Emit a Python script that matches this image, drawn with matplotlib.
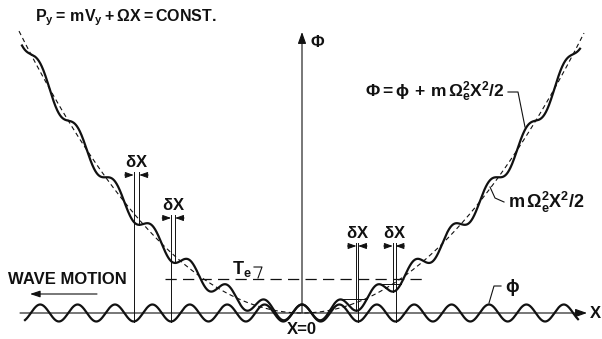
import numpy as np
import matplotlib.pyplot as plt

face = 'Liberation Sans'
plt.rcParams['font.family'] = [face, 'DejaVu Sans']
plt.rcParams['font.weight'] = 'bold'
plt.rcParams['mathtext.fontset'] = 'custom'
plt.rcParams['mathtext.rm'] = face + ':bold'
plt.rcParams['mathtext.it'] = face + ':bold'
plt.rcParams['mathtext.bf'] = face + ':bold'

# potential of the wave: phi = A cos(kX); well: m Omega_e^2 X^2 / 2 = C X^2
PHI_AMP = 8.5
WAVELENGTH = 37.4
WELL_C = 0.00352
X_PHI = (-277, 276)
X_TOTAL = (-280, 278)
X_WELL = (-283, 282)

TE_LEVEL = 34
TE_SPAN = (-137, 123)

# delta-X markers: trough index (in wavelengths) and height of the arrows
DX_TROUGHS = [-4.5, -3.5, 1.5, 2.5]
DX_HEIGHTS = [138, 95, 67, 67]
# trapping levels drawn from these local maxima of Phi (in wavelengths)
TRAP_PEAKS = [1, 2]

k = 2 * np.pi / WAVELENGTH


def phi(x):
    return PHI_AMP * np.cos(k * x)


def well(x):
    return WELL_C * x ** 2


def total(x):
    return phi(x) + well(x)


fig = plt.figure(figsize=(6.02, 3.39), dpi=100)
ax = fig.add_axes([0, 0, 1, 1])
ax.set_xlim(-302, 300)
ax.set_ylim(-26, 313)
ax.axis('off')

ink = '#111111'

# axes
ax.annotate('', xy=(285, 0), xytext=(-282, 0),
            arrowprops=dict(arrowstyle='-|>,head_length=0.7,head_width=0.25', lw=0.8, color=ink, shrinkA=0, shrinkB=0))
ax.annotate('', xy=(0, 281), xytext=(0, 0),
            arrowprops=dict(arrowstyle='-|>,head_length=0.7,head_width=0.25', lw=0.8, color=ink, shrinkA=0, shrinkB=0))
ax.text(288, 0, 'X', fontsize=12, va='center', ha='left', color=ink)
ax.text(8, 271, r'$\mathbf{\Phi}$', fontsize=12, va='center', ha='left', color=ink)
ax.text(0, -17, 'X=0', fontsize=12, va='center', ha='center', color=ink)

xs = np.linspace(*X_PHI, 2000)
ax.plot(xs, phi(xs), color=ink, lw=1.6)
xs = np.linspace(*X_TOTAL, 2000)
ax.plot(xs, total(xs), color=ink, lw=1.6)
xs = np.linspace(*X_WELL, 400)
ax.plot(xs, well(xs), color=ink, lw=0.8, ls=(0, (4, 3)))

# Te level
ax.plot(TE_SPAN, [TE_LEVEL, TE_LEVEL], color=ink, lw=0.9, ls=(0, (9, 5)))
ax.text(-70, TE_LEVEL + 10, r'$\mathrm{T_e}$', fontsize=13, ha='left', va='center', color=ink)
ax.plot([-48, -40, -44], [TE_LEVEL + 12, TE_LEVEL + 12, TE_LEVEL + 1], color=ink, lw=0.8)

# delta X markers
for n, h in zip(DX_TROUGHS, DX_HEIGHTS):
    xt = n * WAVELENGTH
    win = np.linspace(xt - WAVELENGTH / 4, xt + WAVELENGTH / 4, 2001)
    slope = np.gradient(total(win), win)
    xm = win[np.argmin(np.abs(slope))]
    ax.plot([xt, xt], [h + 3, phi(xt)], color=ink, lw=0.7)
    ax.plot([xm, xm], [h + 3, total(xm)], color=ink, lw=0.7)
    lo, hi = min(xt, xm), max(xt, xm)
    ap = dict(arrowstyle='-|>,head_length=0.5,head_width=0.18', lw=0.7, color=ink, shrinkA=0, shrinkB=0)
    ax.annotate('', xy=(lo, h), xytext=(lo - 9, h), arrowprops=ap)
    ax.annotate('', xy=(hi, h), xytext=(hi + 9, h), arrowprops=ap)
    ax.text((lo + hi) / 2, h + 13, r'$\mathrm{\delta X}$', fontsize=12, ha='center', va='center', color=ink)

# trapping levels
for n in TRAP_PEAKS:
    xp = n * WAVELENGTH
    win = np.linspace(xp - WAVELENGTH / 4, xp + WAVELENGTH / 4, 2001)
    i = np.argmax(total(win))
    x0, v = win[i], total(win)[i]
    after = np.linspace(x0 + WAVELENGTH / 4, x0 + WAVELENGTH * 1.2, 2001)
    x1 = after[np.argmax(total(after) >= v)]
    ax.plot([x0, x1], [v, v], color=ink, lw=0.7)

# labels
ax.text(-267, 295, r'$\mathrm{P_{y}{=}\,mV_{y}+\Omega X{=}CONST.}$',
        fontsize=11.5, ha='left', va='center', color=ink)
ax.text(63, 221, r'$\mathrm{\Phi{=}\phi\,+\,m\,\Omega_e^2X^2/2}$',
        fontsize=12.5, ha='left', va='center', color=ink)
ax.plot([206, 216, 223], [221, 221, 186], color=ink, lw=0.8)
ax.text(206, 111, r'$\mathrm{m\,\Omega_e^2X^2/2}$', fontsize=13, ha='left', va='center', color=ink)
ax.plot([188, 193, 202], [126, 115, 111], color=ink, lw=0.8)

ax.text(-294, 34, 'WAVE MOTION', fontsize=12, ha='left', va='center', color=ink)
ax.annotate('', xy=(-272, 19), xytext=(-205, 19),
            arrowprops=dict(arrowstyle='-|>,head_length=0.6,head_width=0.2', lw=0.8, color=ink, shrinkA=0, shrinkB=0))

ax.text(203, 25, r'$\mathbf{\phi}$', fontsize=13, ha='left', va='center', color=ink)
ax.plot([199, 192, 187], [27, 27, 10], color=ink, lw=0.8)

fig.savefig('out.png', dpi=100)
